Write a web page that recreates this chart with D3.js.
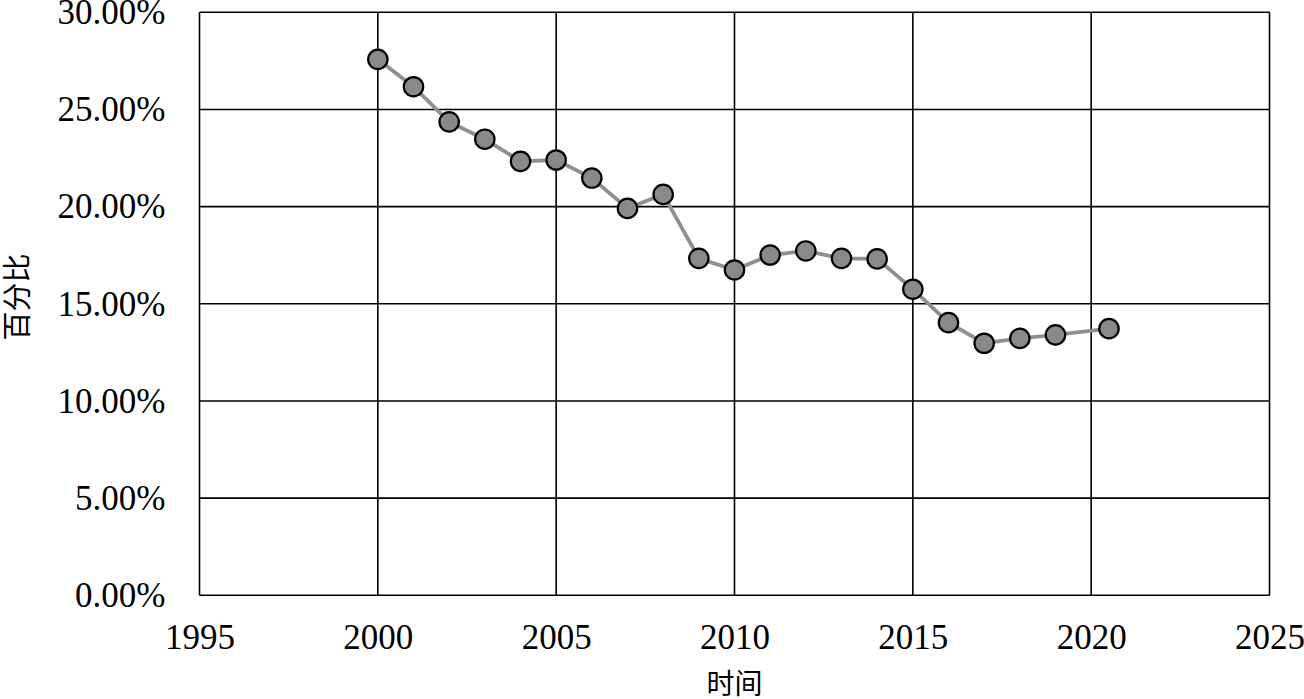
<!DOCTYPE html>
<html><head><meta charset="utf-8">
<script src="https://cdn.jsdelivr.net/npm/d3@7"></script>
<style>body{margin:0;background:#fff}svg{display:block}</style>
</head><body>
<svg id="c" width="1304" height="699"></svg>
<script>
const years = [2000,2001,2002,2003,2004,2005,2006,2007,2008,2009,2010,2011,2012,2013,2014,2015,2016,2017,2018,2019,2020.5];
const values = [27.58,26.17,24.36,23.47,22.33,22.40,21.47,19.91,20.63,17.34,16.74,17.51,17.72,17.34,17.31,15.75,14.03,12.97,13.22,13.40,13.72];
const xTicks = [1995,2000,2005,2010,2015,2020,2025];
const yTicks = [0,5,10,15,20,25,30];
const xTitle = "时间";
const yTitle = "百分比";

const svg = d3.select("#c");
const L=199.5, R=1269.5, T=12.3, B=595.3;
const x = d3.scaleLinear().domain([1995,2025]).range([L,R]);
const y = d3.scaleLinear().domain([0,30]).range([B,T]);
const serif = "'Liberation Serif','Times New Roman',serif";

const g = svg.append("g");
g.selectAll("line.h").data(yTicks).join("line")
  .attr("x1",L).attr("x2",R).attr("y1",d=>y(d)).attr("y2",d=>y(d))
  .attr("stroke","#000").attr("stroke-width",1.6);
g.selectAll("line.v").data(xTicks).join("line")
  .attr("y1",T).attr("y2",B).attr("x1",d=>x(d)).attr("x2",d=>x(d))
  .attr("stroke","#000").attr("stroke-width",1.6);

const ax = svg.append("g").attr("transform",`translate(0,${B})`)
  .call(d3.axisBottom(x).tickValues(xTicks).tickFormat(d3.format("d")).tickSize(0).tickPadding(29));
ax.select(".domain").remove();
ax.selectAll("text").attr("font-family",serif).attr("font-size",35).attr("fill","#000");

const ay = svg.append("g").attr("transform",`translate(${L},0)`)
  .call(d3.axisLeft(y).tickValues(yTicks).tickFormat(d=>d.toFixed(2)+"%").tickSize(0).tickPadding(34));
ay.select(".domain").remove();
ay.selectAll("text").attr("font-family",serif).attr("font-size",35).attr("fill","#000");

svg.append("text").attr("x",(L+R)/2).attr("y",694).attr("text-anchor","middle")
  .attr("font-family","'Noto Sans CJK SC',sans-serif").attr("font-size",28).attr("fill","#000").text(xTitle);
svg.append("text").attr("transform",`translate(28,297) rotate(-90)`).attr("text-anchor","middle")
  .attr("font-family","'Noto Sans CJK SC',sans-serif").attr("font-size",29).attr("fill","#000").text(yTitle);

const data = years.map((yr,i)=>({yr,v:values[i]}));
svg.append("path").datum(data)
  .attr("d",d3.line().x(d=>x(d.yr)).y(d=>y(d.v)))
  .attr("fill","none").attr("stroke","#8f8f8f").attr("stroke-width",3.8);
svg.selectAll("circle").data(data).join("circle")
  .attr("cx",d=>x(d.yr)).attr("cy",d=>y(d.v)).attr("r",9.7)
  .attr("fill","#898989").attr("stroke","#000").attr("stroke-width",2.2);
</script>
</body></html>
